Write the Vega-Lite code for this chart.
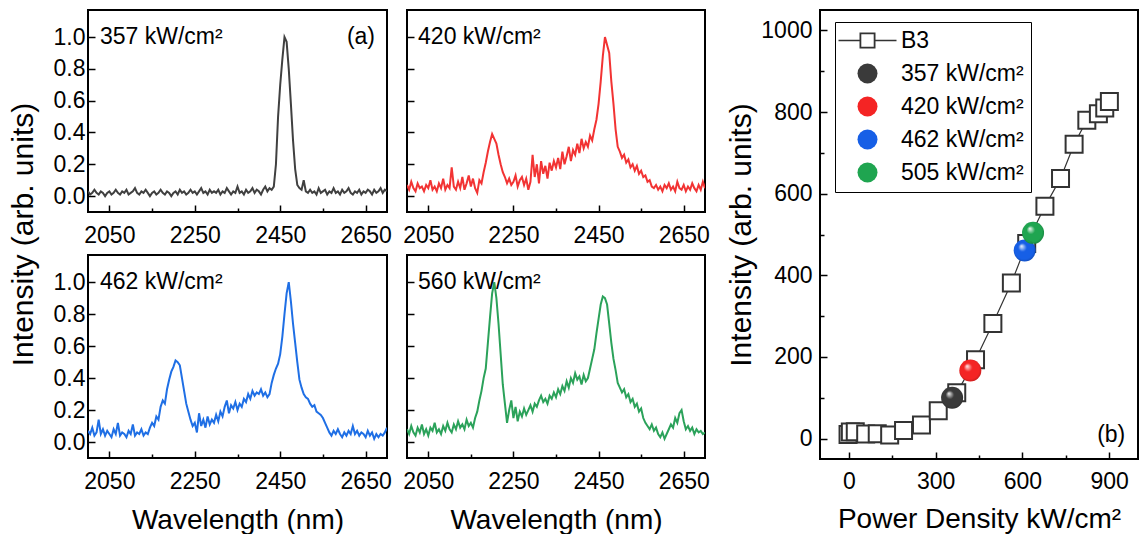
{
"$schema": "https://vega.github.io/schema/vega-lite/v6.json",
"padding": {"left": 7, "top": 9, "right": 2, "bottom": 2},
"config": {
  "font": "Liberation Sans",
  "view": {"stroke": "black", "strokeWidth": 2},
  "axis": {"domain": false, "grid": false, "labelFontSize": 23, "labelColor": "black", "titleFontSize": 28, "titleFontWeight": "normal", "titleColor": "black", "tickColor": "black", "tickWidth": 1.5, "labelOverlap": false, "labelFlush": false}
},
"datasets": {
"s357": [{"w":2000,"v":0.03},{"w":2005,"v":0.01},{"w":2010,"v":0.02},{"w":2015,"v":0.04},{"w":2020,"v":0.02},{"w":2025,"v":0.01},{"w":2030,"v":0.03},{"w":2035,"v":0.02},{"w":2040,"v":0.0},{"w":2045,"v":0.02},
{"w":2050,"v":0.03},{"w":2055,"v":0.01},{"w":2060,"v":0.02},{"w":2065,"v":0.04},{"w":2070,"v":0.02},{"w":2075,"v":0.01},{"w":2080,"v":0.03},{"w":2085,"v":0.02},{"w":2090,"v":0.04},{"w":2095,"v":0.01},
{"w":2100,"v":0.02},{"w":2105,"v":0.03},{"w":2110,"v":0.05},{"w":2115,"v":0.02},{"w":2120,"v":0.01},{"w":2125,"v":0.03},{"w":2130,"v":0.02},{"w":2135,"v":0.04},{"w":2140,"v":0.02},{"w":2145,"v":0.0},
{"w":2150,"v":0.02},{"w":2155,"v":0.03},{"w":2160,"v":0.01},{"w":2165,"v":0.02},{"w":2170,"v":0.04},{"w":2175,"v":0.02},{"w":2180,"v":0.01},{"w":2185,"v":0.03},{"w":2190,"v":0.02},{"w":2195,"v":0.0},
{"w":2200,"v":0.02},{"w":2205,"v":0.03},{"w":2210,"v":0.01},{"w":2215,"v":0.04},{"w":2220,"v":0.02},{"w":2225,"v":0.03},{"w":2230,"v":0.01},{"w":2235,"v":0.02},{"w":2240,"v":0.04},{"w":2245,"v":0.02},
{"w":2250,"v":0.03},{"w":2255,"v":0.01},{"w":2260,"v":0.03},{"w":2265,"v":0.05},{"w":2270,"v":0.02},{"w":2275,"v":0.03},{"w":2280,"v":0.01},{"w":2285,"v":0.04},{"w":2290,"v":0.02},{"w":2295,"v":0.03},
{"w":2300,"v":0.02},{"w":2305,"v":0.04},{"w":2310,"v":0.01},{"w":2315,"v":0.03},{"w":2320,"v":0.02},{"w":2325,"v":0.05},{"w":2330,"v":0.03},{"w":2335,"v":0.01},{"w":2340,"v":0.03},{"w":2345,"v":0.02},
{"w":2350,"v":0.06},{"w":2355,"v":0.02},{"w":2360,"v":0.03},{"w":2365,"v":0.01},{"w":2370,"v":0.04},{"w":2375,"v":0.02},{"w":2380,"v":0.03},{"w":2385,"v":0.05},{"w":2390,"v":0.02},{"w":2395,"v":0.04},
{"w":2400,"v":0.03},{"w":2405,"v":0.01},{"w":2410,"v":0.04},{"w":2415,"v":0.06},{"w":2420,"v":0.03},{"w":2425,"v":0.05},{"w":2430,"v":0.04},{"w":2435,"v":0.06},{"w":2440,"v":0.2},{"w":2445,"v":0.5},
{"w":2450,"v":0.7},{"w":2455,"v":0.86},{"w":2460,"v":1.0},{"w":2465,"v":0.97},{"w":2470,"v":0.8},{"w":2475,"v":0.58},{"w":2480,"v":0.35},{"w":2485,"v":0.17},{"w":2490,"v":0.07},{"w":2495,"v":0.05},
{"w":2500,"v":0.04},{"w":2505,"v":0.1},{"w":2510,"v":0.03},{"w":2515,"v":0.02},{"w":2520,"v":0.04},{"w":2525,"v":0.02},{"w":2530,"v":0.03},{"w":2535,"v":0.01},{"w":2540,"v":0.05},{"w":2545,"v":0.02},
{"w":2550,"v":0.03},{"w":2555,"v":0.04},{"w":2560,"v":0.01},{"w":2565,"v":0.03},{"w":2570,"v":0.02},{"w":2575,"v":0.05},{"w":2580,"v":0.02},{"w":2585,"v":0.03},{"w":2590,"v":0.01},{"w":2595,"v":0.04},
{"w":2600,"v":0.02},{"w":2605,"v":0.03},{"w":2610,"v":0.05},{"w":2615,"v":0.02},{"w":2620,"v":0.01},{"w":2625,"v":0.03},{"w":2630,"v":0.02},{"w":2635,"v":0.04},{"w":2640,"v":0.01},{"w":2645,"v":0.03},
{"w":2650,"v":0.02},{"w":2655,"v":0.04},{"w":2660,"v":0.03},{"w":2665,"v":0.01},{"w":2670,"v":0.04},{"w":2675,"v":0.02},{"w":2680,"v":0.03},{"w":2685,"v":0.05},{"w":2690,"v":0.02},{"w":2695,"v":0.04},{"w":2700,"v":0.03}],
"s420": [{"w":2000,"v":0.07},{"w":2005,"v":0.04},{"w":2010,"v":0.09},{"w":2015,"v":0.05},{"w":2020,"v":0.03},{"w":2025,"v":0.08},{"w":2030,"v":0.05},{"w":2035,"v":0.06},{"w":2040,"v":0.03},{"w":2045,"v":0.07},
{"w":2050,"v":0.05},{"w":2055,"v":0.1},{"w":2060,"v":0.04},{"w":2065,"v":0.06},{"w":2070,"v":0.03},{"w":2075,"v":0.08},{"w":2080,"v":0.05},{"w":2085,"v":0.11},{"w":2090,"v":0.04},{"w":2095,"v":0.07},
{"w":2100,"v":0.05},{"w":2105,"v":0.18},{"w":2110,"v":0.06},{"w":2115,"v":0.04},{"w":2120,"v":0.09},{"w":2125,"v":0.05},{"w":2130,"v":0.12},{"w":2135,"v":0.04},{"w":2140,"v":0.08},{"w":2145,"v":0.13},
{"w":2150,"v":0.06},{"w":2155,"v":0.11},{"w":2160,"v":0.05},{"w":2165,"v":0.02},{"w":2170,"v":0.1},{"w":2175,"v":0.08},{"w":2180,"v":0.15},{"w":2185,"v":0.21},{"w":2190,"v":0.28},{"w":2195,"v":0.34},
{"w":2200,"v":0.39},{"w":2205,"v":0.36},{"w":2210,"v":0.33},{"w":2215,"v":0.26},{"w":2220,"v":0.2},{"w":2225,"v":0.15},{"w":2230,"v":0.12},{"w":2235,"v":0.08},{"w":2240,"v":0.11},{"w":2245,"v":0.07},
{"w":2250,"v":0.09},{"w":2255,"v":0.13},{"w":2260,"v":0.06},{"w":2265,"v":0.1},{"w":2270,"v":0.12},{"w":2275,"v":0.07},{"w":2280,"v":0.11},{"w":2285,"v":0.04},{"w":2290,"v":0.09},{"w":2295,"v":0.26},
{"w":2300,"v":0.12},{"w":2305,"v":0.2},{"w":2310,"v":0.08},{"w":2315,"v":0.22},{"w":2320,"v":0.14},{"w":2325,"v":0.19},{"w":2330,"v":0.11},{"w":2335,"v":0.21},{"w":2340,"v":0.16},{"w":2345,"v":0.22},
{"w":2350,"v":0.18},{"w":2355,"v":0.24},{"w":2360,"v":0.17},{"w":2365,"v":0.28},{"w":2370,"v":0.2},{"w":2375,"v":0.25},{"w":2380,"v":0.31},{"w":2385,"v":0.22},{"w":2390,"v":0.29},{"w":2395,"v":0.26},
{"w":2400,"v":0.33},{"w":2405,"v":0.27},{"w":2410,"v":0.36},{"w":2415,"v":0.3},{"w":2420,"v":0.34},{"w":2425,"v":0.31},{"w":2430,"v":0.38},{"w":2435,"v":0.35},{"w":2440,"v":0.42},{"w":2445,"v":0.48},
{"w":2450,"v":0.58},{"w":2455,"v":0.72},{"w":2460,"v":0.88},{"w":2465,"v":1.0},{"w":2470,"v":0.95},{"w":2475,"v":0.9},{"w":2480,"v":0.72},{"w":2485,"v":0.58},{"w":2490,"v":0.42},{"w":2495,"v":0.31},
{"w":2500,"v":0.28},{"w":2505,"v":0.24},{"w":2510,"v":0.26},{"w":2515,"v":0.21},{"w":2520,"v":0.23},{"w":2525,"v":0.18},{"w":2530,"v":0.2},{"w":2535,"v":0.16},{"w":2540,"v":0.19},{"w":2545,"v":0.14},
{"w":2550,"v":0.16},{"w":2555,"v":0.12},{"w":2560,"v":0.13},{"w":2565,"v":0.09},{"w":2570,"v":0.1},{"w":2575,"v":0.06},{"w":2580,"v":0.05},{"w":2585,"v":0.07},{"w":2590,"v":0.04},{"w":2595,"v":0.06},
{"w":2600,"v":0.03},{"w":2605,"v":0.07},{"w":2610,"v":0.05},{"w":2615,"v":0.08},{"w":2620,"v":0.04},{"w":2625,"v":0.06},{"w":2630,"v":0.03},{"w":2635,"v":0.09},{"w":2640,"v":0.05},{"w":2645,"v":0.04},
{"w":2650,"v":0.07},{"w":2655,"v":0.03},{"w":2660,"v":0.06},{"w":2665,"v":0.04},{"w":2670,"v":0.08},{"w":2675,"v":0.05},{"w":2680,"v":0.03},{"w":2685,"v":0.07},{"w":2690,"v":0.04},{"w":2695,"v":0.09},{"w":2700,"v":0.05}],
"s462": [{"w":2000,"v":0.07},{"w":2005,"v":0.05},{"w":2010,"v":0.09},{"w":2015,"v":0.04},{"w":2020,"v":0.06},{"w":2025,"v":0.14},{"w":2030,"v":0.05},{"w":2035,"v":0.08},{"w":2040,"v":0.04},{"w":2045,"v":0.07},
{"w":2050,"v":0.05},{"w":2055,"v":0.03},{"w":2060,"v":0.08},{"w":2065,"v":0.05},{"w":2070,"v":0.12},{"w":2075,"v":0.04},{"w":2080,"v":0.06},{"w":2085,"v":0.05},{"w":2090,"v":0.03},{"w":2095,"v":0.07},
{"w":2100,"v":0.05},{"w":2105,"v":0.11},{"w":2110,"v":0.04},{"w":2115,"v":0.06},{"w":2120,"v":0.05},{"w":2125,"v":0.08},{"w":2130,"v":0.04},{"w":2135,"v":0.06},{"w":2140,"v":0.05},{"w":2145,"v":0.09},
{"w":2150,"v":0.12},{"w":2155,"v":0.1},{"w":2160,"v":0.16},{"w":2165,"v":0.14},{"w":2170,"v":0.22},{"w":2175,"v":0.26},{"w":2180,"v":0.24},{"w":2185,"v":0.33},{"w":2190,"v":0.39},{"w":2195,"v":0.44},
{"w":2200,"v":0.47},{"w":2205,"v":0.51},{"w":2210,"v":0.5},{"w":2215,"v":0.48},{"w":2220,"v":0.4},{"w":2225,"v":0.32},{"w":2230,"v":0.24},{"w":2235,"v":0.19},{"w":2240,"v":0.14},{"w":2245,"v":0.1},
{"w":2250,"v":0.12},{"w":2255,"v":0.06},{"w":2260,"v":0.18},{"w":2265,"v":0.1},{"w":2270,"v":0.14},{"w":2275,"v":0.09},{"w":2280,"v":0.16},{"w":2285,"v":0.11},{"w":2290,"v":0.14},{"w":2295,"v":0.12},
{"w":2300,"v":0.17},{"w":2305,"v":0.13},{"w":2310,"v":0.19},{"w":2315,"v":0.16},{"w":2320,"v":0.22},{"w":2325,"v":0.26},{"w":2330,"v":0.18},{"w":2335,"v":0.23},{"w":2340,"v":0.21},{"w":2345,"v":0.25},
{"w":2350,"v":0.2},{"w":2355,"v":0.24},{"w":2360,"v":0.22},{"w":2365,"v":0.27},{"w":2370,"v":0.25},{"w":2375,"v":0.3},{"w":2380,"v":0.27},{"w":2385,"v":0.32},{"w":2390,"v":0.29},{"w":2395,"v":0.31},
{"w":2400,"v":0.3},{"w":2405,"v":0.33},{"w":2410,"v":0.29},{"w":2415,"v":0.31},{"w":2420,"v":0.28},{"w":2425,"v":0.3},{"w":2430,"v":0.37},{"w":2435,"v":0.42},{"w":2440,"v":0.46},{"w":2445,"v":0.49},
{"w":2450,"v":0.55},{"w":2455,"v":0.66},{"w":2460,"v":0.8},{"w":2465,"v":0.93},{"w":2470,"v":1.0},{"w":2475,"v":0.88},{"w":2480,"v":0.74},{"w":2485,"v":0.62},{"w":2490,"v":0.5},{"w":2495,"v":0.39},
{"w":2500,"v":0.34},{"w":2505,"v":0.3},{"w":2510,"v":0.28},{"w":2515,"v":0.27},{"w":2520,"v":0.24},{"w":2525,"v":0.22},{"w":2530,"v":0.23},{"w":2535,"v":0.19},{"w":2540,"v":0.18},{"w":2545,"v":0.17},
{"w":2550,"v":0.15},{"w":2555,"v":0.12},{"w":2560,"v":0.09},{"w":2565,"v":0.06},{"w":2570,"v":0.04},{"w":2575,"v":0.07},{"w":2580,"v":0.05},{"w":2585,"v":0.08},{"w":2590,"v":0.05},{"w":2595,"v":0.03},
{"w":2600,"v":0.06},{"w":2605,"v":0.04},{"w":2610,"v":0.07},{"w":2615,"v":0.05},{"w":2620,"v":0.1},{"w":2625,"v":0.05},{"w":2630,"v":0.07},{"w":2635,"v":0.04},{"w":2640,"v":0.06},{"w":2645,"v":0.05},
{"w":2650,"v":0.03},{"w":2655,"v":0.07},{"w":2660,"v":0.04},{"w":2665,"v":0.06},{"w":2670,"v":0.02},{"w":2675,"v":0.05},{"w":2680,"v":0.03},{"w":2685,"v":0.05},{"w":2690,"v":0.04},{"w":2695,"v":0.06},{"w":2700,"v":0.09}],
"s560": [{"w":2000,"v":0.08},{"w":2005,"v":0.05},{"w":2010,"v":0.1},{"w":2015,"v":0.06},{"w":2020,"v":0.04},{"w":2025,"v":0.09},{"w":2030,"v":0.06},{"w":2035,"v":0.11},{"w":2040,"v":0.05},{"w":2045,"v":0.08},
{"w":2050,"v":0.04},{"w":2055,"v":0.09},{"w":2060,"v":0.07},{"w":2065,"v":0.12},{"w":2070,"v":0.06},{"w":2075,"v":0.08},{"w":2080,"v":0.05},{"w":2085,"v":0.1},{"w":2090,"v":0.07},{"w":2095,"v":0.12},
{"w":2100,"v":0.08},{"w":2105,"v":0.06},{"w":2110,"v":0.11},{"w":2115,"v":0.08},{"w":2120,"v":0.13},{"w":2125,"v":0.09},{"w":2130,"v":0.11},{"w":2135,"v":0.08},{"w":2140,"v":0.14},{"w":2145,"v":0.1},
{"w":2150,"v":0.12},{"w":2155,"v":0.09},{"w":2160,"v":0.15},{"w":2165,"v":0.19},{"w":2170,"v":0.26},{"w":2175,"v":0.32},{"w":2180,"v":0.4},{"w":2185,"v":0.46},{"w":2190,"v":0.62},{"w":2195,"v":0.78},
{"w":2200,"v":0.93},{"w":2205,"v":1.0},{"w":2210,"v":0.9},{"w":2215,"v":0.74},{"w":2220,"v":0.55},{"w":2225,"v":0.36},{"w":2230,"v":0.24},{"w":2235,"v":0.12},{"w":2240,"v":0.2},{"w":2245,"v":0.26},
{"w":2250,"v":0.15},{"w":2255,"v":0.22},{"w":2260,"v":0.13},{"w":2265,"v":0.19},{"w":2270,"v":0.16},{"w":2275,"v":0.21},{"w":2280,"v":0.17},{"w":2285,"v":0.2},{"w":2290,"v":0.23},{"w":2295,"v":0.19},
{"w":2300,"v":0.24},{"w":2305,"v":0.22},{"w":2310,"v":0.26},{"w":2315,"v":0.29},{"w":2320,"v":0.25},{"w":2325,"v":0.27},{"w":2330,"v":0.24},{"w":2335,"v":0.29},{"w":2340,"v":0.27},{"w":2345,"v":0.31},
{"w":2350,"v":0.28},{"w":2355,"v":0.33},{"w":2360,"v":0.3},{"w":2365,"v":0.35},{"w":2370,"v":0.32},{"w":2375,"v":0.38},{"w":2380,"v":0.34},{"w":2385,"v":0.4},{"w":2390,"v":0.37},{"w":2395,"v":0.43},
{"w":2400,"v":0.39},{"w":2405,"v":0.41},{"w":2410,"v":0.36},{"w":2415,"v":0.42},{"w":2420,"v":0.38},{"w":2425,"v":0.4},{"w":2430,"v":0.46},{"w":2435,"v":0.52},{"w":2440,"v":0.58},{"w":2445,"v":0.68},
{"w":2450,"v":0.77},{"w":2455,"v":0.86},{"w":2460,"v":0.91},{"w":2465,"v":0.9},{"w":2470,"v":0.86},{"w":2475,"v":0.74},{"w":2480,"v":0.62},{"w":2485,"v":0.52},{"w":2490,"v":0.45},{"w":2495,"v":0.37},
{"w":2500,"v":0.34},{"w":2505,"v":0.31},{"w":2510,"v":0.33},{"w":2515,"v":0.28},{"w":2520,"v":0.3},{"w":2525,"v":0.25},{"w":2530,"v":0.27},{"w":2535,"v":0.22},{"w":2540,"v":0.24},{"w":2545,"v":0.19},
{"w":2550,"v":0.21},{"w":2555,"v":0.15},{"w":2560,"v":0.12},{"w":2565,"v":0.1},{"w":2570,"v":0.08},{"w":2575,"v":0.11},{"w":2580,"v":0.07},{"w":2585,"v":0.09},{"w":2590,"v":0.05},{"w":2595,"v":0.03},
{"w":2600,"v":0.06},{"w":2605,"v":0.02},{"w":2610,"v":0.05},{"w":2615,"v":0.08},{"w":2620,"v":0.11},{"w":2625,"v":0.09},{"w":2630,"v":0.15},{"w":2635,"v":0.12},{"w":2640,"v":0.18},{"w":2645,"v":0.2},
{"w":2650,"v":0.13},{"w":2655,"v":0.08},{"w":2660,"v":0.1},{"w":2665,"v":0.07},{"w":2670,"v":0.09},{"w":2675,"v":0.05},{"w":2680,"v":0.08},{"w":2685,"v":0.06},{"w":2690,"v":0.07},{"w":2695,"v":0.05},{"w":2700,"v":0.06}],
"b3": [{"p":-3,"i":10},{"p":5,"i":16},{"p":22,"i":17},{"p":58,"i":11},{"p":98,"i":12},{"p":141,"i":9},{"p":189,"i":20},{"p":251,"i":33},{"p":309,"i":68},{"p":373,"i":112},{"p":438,"i":193},{"p":498,"i":282},{"p":562,"i":381},{"p":615,"i":478},{"p":678,"i":569},{"p":732,"i":637},{"p":779,"i":721},{"p":823,"i":780},{"p":863,"i":796},{"p":885,"i":810},{"p":901,"i":826}],
"spheres": [{"p":357,"i":100,"series":"357 kW/cm²"},{"p":420,"i":167,"series":"420 kW/cm²"},{"p":608,"i":461,"series":"462 kW/cm²"},{"p":637,"i":504,"series":"505 kW/cm²"}]
},
"hconcat": [
 {"vconcat": [
   {"hconcat": [
     {"width": 299, "height": 202,
      "layer": [
        {"data": {"name": "s357"}, "mark": {"type": "line", "color": "#404040", "strokeWidth": 2, "clip": true},
         "encoding": {
           "x": {"field": "w", "type": "quantitative", "scale": {"domain": [2000, 2700], "nice": false, "zero": false},
                 "axis": {"title": null, "values": [2050, 2150, 2250, 2350, 2450, 2550, 2650], "format": "d", "labelExpr": "datum.value % 200 == 50 ? datum.label : ''", "tickSize": {"condition": {"test": "datum.value % 200 == 150", "value": -4}, "value": -7}, "labelPadding": 19}},
           "y": {"field": "v", "type": "quantitative", "scale": {"domain": [-0.1, 1.17], "nice": false, "zero": false},
                 "axis": {"title": "Intensity (arb. units)", "titleFontSize": 30, "titleX": -50, "titleY": 224, "values": [0, 0.1, 0.2, 0.3, 0.4, 0.5, 0.6, 0.7, 0.8, 0.9, 1, 1.1], "labelExpr": "round(datum.value*10) % 2 == 0 ? format(datum.value, '.1f') : ''", "tickSize": {"condition": {"test": "round(datum.value*10) % 2 == 1", "value": -4}, "value": -7}, "labelPadding": 10}}
         }},
        {"data": {"values": [{"w": 2028, "v": 1.0, "t": "357 kW/cm²"}]}, "mark": {"type": "text", "align": "left", "baseline": "middle", "fontSize": 23, "color": "black"},
         "encoding": {"x": {"field": "w", "type": "quantitative"}, "y": {"field": "v", "type": "quantitative"}, "text": {"field": "t"}}},
        {"data": {"values": [{"w": 2672, "v": 1.0, "t": "(a)"}]}, "mark": {"type": "text", "align": "right", "baseline": "middle", "fontSize": 23, "color": "black"},
         "encoding": {"x": {"field": "w", "type": "quantitative"}, "y": {"field": "v", "type": "quantitative"}, "text": {"field": "t"}}}
      ]},
     {"width": 298, "height": 202,
      "layer": [
        {"data": {"name": "s420"}, "mark": {"type": "line", "color": "#f23333", "strokeWidth": 2, "clip": true},
         "encoding": {
           "x": {"field": "w", "type": "quantitative", "scale": {"domain": [2000, 2700], "nice": false, "zero": false},
                 "axis": {"title": null, "values": [2050, 2150, 2250, 2350, 2450, 2550, 2650], "format": "d", "labelExpr": "datum.value % 200 == 50 ? datum.label : ''", "tickSize": {"condition": {"test": "datum.value % 200 == 150", "value": -4}, "value": -7}, "labelPadding": 19}},
           "y": {"field": "v", "type": "quantitative", "scale": {"domain": [-0.1, 1.17], "nice": false, "zero": false},
                 "axis": {"title": null, "labels": false, "values": [0, 0.1, 0.2, 0.3, 0.4, 0.5, 0.6, 0.7, 0.8, 0.9, 1, 1.1], "tickSize": {"condition": {"test": "round(datum.value*10) % 2 == 1", "value": -4}, "value": -7}}}
         }},
        {"data": {"values": [{"w": 2026, "v": 1.0, "t": "420 kW/cm²"}]}, "mark": {"type": "text", "align": "left", "baseline": "middle", "fontSize": 23, "color": "black"},
         "encoding": {"x": {"field": "w", "type": "quantitative"}, "y": {"field": "v", "type": "quantitative"}, "text": {"field": "t"}}}
      ]}
   ], "spacing": 20, "bounds": "flush"},
   {"hconcat": [
     {"width": 299, "height": 203,
      "layer": [
        {"data": {"name": "s462"}, "mark": {"type": "line", "color": "#1f6fe5", "strokeWidth": 2, "clip": true},
         "encoding": {
           "x": {"field": "w", "type": "quantitative", "scale": {"domain": [2000, 2700], "nice": false, "zero": false},
                 "axis": {"title": "Wavelength (nm)", "titlePadding": 10, "values": [2050, 2150, 2250, 2350, 2450, 2550, 2650], "format": "d", "labelExpr": "datum.value % 200 == 50 ? datum.label : ''", "tickSize": {"condition": {"test": "datum.value % 200 == 150", "value": -4}, "value": -7}, "labelPadding": 19}},
           "y": {"field": "v", "type": "quantitative", "scale": {"domain": [-0.1, 1.17], "nice": false, "zero": false},
                 "axis": {"title": null, "values": [0, 0.1, 0.2, 0.3, 0.4, 0.5, 0.6, 0.7, 0.8, 0.9, 1, 1.1], "labelExpr": "round(datum.value*10) % 2 == 0 ? format(datum.value, '.1f') : ''", "tickSize": {"condition": {"test": "round(datum.value*10) % 2 == 1", "value": -4}, "value": -7}, "labelPadding": 10}}
         }},
        {"data": {"values": [{"w": 2028, "v": 1.0, "t": "462 kW/cm²"}]}, "mark": {"type": "text", "align": "left", "baseline": "middle", "fontSize": 23, "color": "black"},
         "encoding": {"x": {"field": "w", "type": "quantitative"}, "y": {"field": "v", "type": "quantitative"}, "text": {"field": "t"}}}
      ]},
     {"width": 298, "height": 203,
      "layer": [
        {"data": {"name": "s560"}, "mark": {"type": "line", "color": "#2ba25a", "strokeWidth": 2, "clip": true},
         "encoding": {
           "x": {"field": "w", "type": "quantitative", "scale": {"domain": [2000, 2700], "nice": false, "zero": false},
                 "axis": {"title": "Wavelength (nm)", "titlePadding": 10, "values": [2050, 2150, 2250, 2350, 2450, 2550, 2650], "format": "d", "labelExpr": "datum.value % 200 == 50 ? datum.label : ''", "tickSize": {"condition": {"test": "datum.value % 200 == 150", "value": -4}, "value": -7}, "labelPadding": 19}},
           "y": {"field": "v", "type": "quantitative", "scale": {"domain": [-0.1, 1.17], "nice": false, "zero": false},
                 "axis": {"title": null, "labels": false, "values": [0, 0.1, 0.2, 0.3, 0.4, 0.5, 0.6, 0.7, 0.8, 0.9, 1, 1.1], "tickSize": {"condition": {"test": "round(datum.value*10) % 2 == 1", "value": -4}, "value": -7}}}
         }},
        {"data": {"values": [{"w": 2026, "v": 1.0, "t": "560 kW/cm²"}]}, "mark": {"type": "text", "align": "left", "baseline": "middle", "fontSize": 23, "color": "black"},
         "encoding": {"x": {"field": "w", "type": "quantitative"}, "y": {"field": "v", "type": "quantitative"}, "text": {"field": "t"}}}
      ]}
   ], "spacing": 20, "bounds": "flush"}
 ], "spacing": 245, "bounds": "flush"},
 {"width": 318, "height": 449,
  "layer": [
    {"data": {"name": "b3"}, "mark": {"type": "line", "color": "#333333", "strokeWidth": 1.2},
     "encoding": {
       "x": {"field": "p", "type": "quantitative", "scale": {"domain": [-100, 1000], "nice": false, "zero": false},
             "axis": {"title": "Power Density kW/cm²", "titlePadding": 9, "values": [0, 150, 300, 450, 600, 750, 900], "format": "d", "labelExpr": "datum.value % 300 == 0 ? datum.label : ''", "tickSize": {"condition": {"test": "datum.value % 300 != 0", "value": -4}, "value": -7}, "labelPadding": 18}},
       "y": {"field": "i", "type": "quantitative", "scale": {"domain": [-50, 1050], "nice": false, "zero": false},
             "axis": {"title": "Intensity (arb. units)", "titleFontSize": 30, "titlePadding": 4, "values": [0, 100, 200, 300, 400, 500, 600, 700, 800, 900, 1000], "format": "d", "labelExpr": "datum.value % 200 == 0 ? datum.label : ''", "tickSize": {"condition": {"test": "datum.value % 200 != 0", "value": -4}, "value": -7}, "labelPadding": 15}}
     }},
    {"data": {"name": "b3"}, "mark": {"type": "square", "size": 289, "fill": "white", "stroke": "#333333", "strokeWidth": 2, "opacity": 1},
     "encoding": {"x": {"field": "p", "type": "quantitative"}, "y": {"field": "i", "type": "quantitative"}}},
    {"data": {"name": "spheres"}, "mark": {"type": "point", "filled": true, "size": 484, "opacity": 1},
     "encoding": {"x": {"field": "p", "type": "quantitative"}, "y": {"field": "i", "type": "quantitative"},
       "shape": {"field": "series", "type": "nominal",
         "scale": {"domain": ["B3", "357 kW/cm²", "420 kW/cm²", "462 kW/cm²", "505 kW/cm²"],
           "range": ["M-2.9,-0.07H-0.8V0.07H-2.9ZM0.8,-0.07H2.9V0.07H0.8ZM-0.8,-0.8H0.8V0.8H-0.8ZM-0.62,-0.62V0.62H0.62V-0.62Z", "circle", "circle", "circle", "circle"]},
         "legend": {"title": null, "orient": "none", "legendX": 747, "legendY": 12, "strokeColor": "black", "fillColor": "white", "padding": 7, "symbolOffset": 14, "labelOffset": 22, "labelFontSize": 23, "labelColor": "black", "symbolSize": 400, "rowPadding": 9, "labelLimit": 0}},
       "color": {"field": "series", "type": "nominal",
         "scale": {"domain": ["B3", "357 kW/cm²", "420 kW/cm²", "462 kW/cm²", "505 kW/cm²"],
           "range": ["#333333", "#3a3a3a", "#f42424", "#165fe6", "#1fa550"]},
         "legend": {"title": null, "orient": "none", "legendX": 747, "legendY": 12, "strokeColor": "black", "fillColor": "white", "padding": 7, "symbolOffset": 14, "labelOffset": 22, "labelFontSize": 23, "labelColor": "black", "symbolSize": 400, "rowPadding": 9, "labelLimit": 0}}
     }},
    {"data": {"name": "spheres"}, "mark": {"type": "circle", "size": 484, "opacity": 1, "fill": {"gradient": "radial", "x1": 0.35, "y1": 0.3, "r1": 0, "x2": 0.5, "y2": 0.5, "r2": 0.55, "stops": [{"offset": 0, "color": "rgba(255,255,255,0.95)"}, {"offset": 0.35, "color": "rgba(255,255,255,0)"}, {"offset": 0.8, "color": "rgba(0,0,0,0)"}, {"offset": 1, "color": "rgba(0,0,0,0.25)"}]}},
     "encoding": {"x": {"field": "p", "type": "quantitative"}, "y": {"field": "i", "type": "quantitative"}}},
    {"data": {"values": [{"p": 956, "i": 8, "t": "(b)"}]}, "mark": {"type": "text", "align": "right", "baseline": "middle", "fontSize": 23, "color": "black"},
     "encoding": {"x": {"field": "p", "type": "quantitative"}, "y": {"field": "i", "type": "quantitative"}, "text": {"field": "t"}}}
  ]}
], "spacing": 732, "bounds": "flush"
}
